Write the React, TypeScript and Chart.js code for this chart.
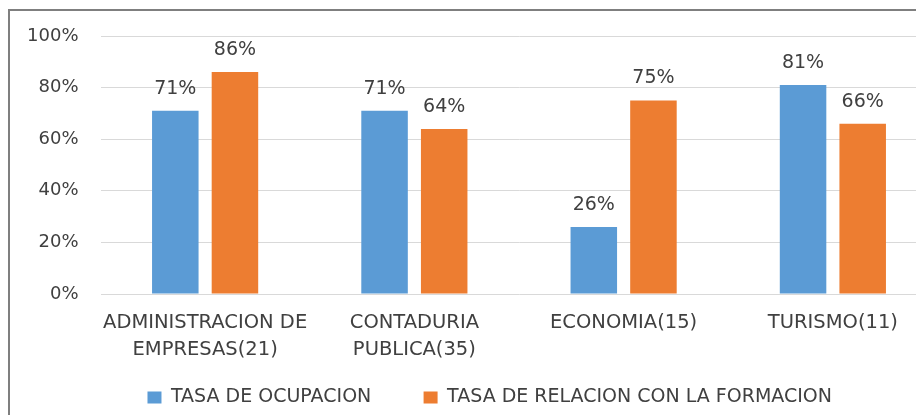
import React, { useEffect, useRef } from "react";
import { Chart, registerables } from "chart.js";

Chart.register(...registerables);

const categories: string[][] = [
  ["ADMINISTRACION DE", "EMPRESAS(21)"],
  ["CONTADURIA", "PUBLICA(35)"],
  ["ECONOMIA(15)"],
  ["TURISMO(11)"],
];
const tasaOcupacion = [71, 71, 26, 81];
const tasaRelacion = [86, 64, 75, 66];
const seriesNames = ["TASA DE OCUPACION", "TASA DE RELACION CON LA FORMACION"];
const seriesColors = ["#5B9BD5", "#ED7D31"];
const yTicks = [0, 20, 40, 60, 80, 100];

const FONT = "'DejaVu Sans', sans-serif";
const TEXT = "#404040";

const valueLabels = {
  id: "valueLabels",
  afterDatasetsDraw(chart: any) {
    const ctx = chart.ctx;
    ctx.save();
    ctx.font = `19px ${FONT}`;
    ctx.fillStyle = TEXT;
    ctx.textAlign = "center";
    ctx.textBaseline = "middle";
    chart.data.datasets.forEach((ds: any, i: number) => {
      const meta = chart.getDatasetMeta(i);
      meta.data.forEach((el: any, j: number) => {
        ctx.fillText(ds.data[j] + "%", el.x, el.y - 22);
      });
    });
    ctx.restore();
  },
};

// shifts the legend block horizontally to match the original's centring
const legendShift = {
  id: "legendShift",
  afterLayout(chart: any) {
    const lg = chart.legend;
    if (lg) {
      lg.left += 21;
      lg.right += 21;
    }
  },
};

export default function App() {
  const ref = useRef<HTMLCanvasElement>(null);
  useEffect(() => {
    if (!ref.current) return;
    const chart = new Chart(ref.current, {
      type: "bar",
      data: {
        labels: categories,
        datasets: [
          {
            label: seriesNames[0],
            data: tasaOcupacion,
            backgroundColor: seriesColors[0],
            borderWidth: 0,
            categoryPercentage: 0.57,
            barPercentage: 0.78,
          },
          {
            label: seriesNames[1],
            data: tasaRelacion,
            backgroundColor: seriesColors[1],
            borderWidth: 0,
            categoryPercentage: 0.57,
            barPercentage: 0.78,
          },
        ],
      },
      options: {
        responsive: false,
        animation: false,
        layout: { padding: { left: 0, right: 12.5, top: 36, bottom: 3 } },
        plugins: {
          tooltip: { enabled: false },
          legend: {
            position: "bottom",
            labels: {
              boxWidth: 14,
              boxHeight: 12,
              padding: 10,
              color: TEXT,
              font: { family: FONT, size: 19 },
              generateLabels: (c: any) =>
                c.data.datasets.map((ds: any, i: number) => ({
                  text: i === 0 ? ds.label + "       " : ds.label,
                  fillStyle: ds.backgroundColor,
                  strokeStyle: ds.backgroundColor,
                  lineWidth: 0,
                  fontColor: TEXT,
                  hidden: false,
                  datasetIndex: i,
                })),
            },
          },
        },
        scales: {
          x: {
            grid: { display: false, drawTicks: false },
            border: { display: false },
            ticks: {
              color: TEXT,
              padding: 14.75,
              font: { family: FONT, size: 19.5, lineHeight: 1.41 } as any,
              maxRotation: 0,
              autoSkip: false,
            },
            afterFit: (s: any) => {
              s.height = 84;
            },
          },
          y: {
            min: 0,
            max: 100,
            afterBuildTicks: (s: any) => {
              s.ticks = yTicks.map((v) => ({ value: v }));
            },
            grid: { color: "#d9d9d9", drawTicks: false, lineWidth: 1 },
            border: { display: false },
            ticks: {
              color: TEXT,
              padding: 22,
              font: { family: FONT, size: 18 },
              callback: (v: any) => v + "%",
            },
            afterFit: (s: any) => {
              s.width = 100.5;
            },
          },
        },
      },
      plugins: [valueLabels, legendShift],
    });
    return () => chart.destroy();
  }, []);
  return (
    <div
      style={{
        position: "fixed",
        left: 0,
        top: 0,
        width: 916,
        height: 415,
        overflow: "hidden",
        background: "#fff",
      }}
    >
      <div
        style={{
          position: "absolute",
          left: 8,
          top: 9,
          width: 1000,
          height: 500,
          border: "2px solid #7f7f7f",
          boxSizing: "border-box",
        }}
      />
      <canvas
        ref={ref}
        width={950}
        height={420}
        style={{ position: "absolute", left: 0, top: 0, display: "block" }}
      />
    </div>
  );
}
